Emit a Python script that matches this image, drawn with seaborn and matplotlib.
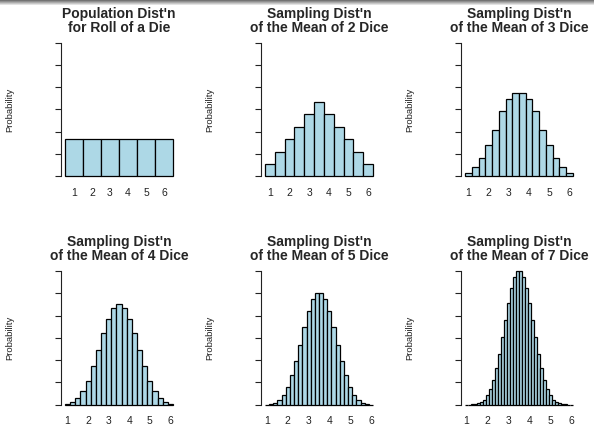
import numpy as np
import pandas as pd
import seaborn as sns
import matplotlib.pyplot as plt

# number of dice averaged in each panel
n_dice = [1, 2, 3, 4, 5, 7]

titles = [
    "Population Dist'n\nfor Roll of a Die",
    "Sampling Dist'n\nof the Mean of 2 Dice",
    "Sampling Dist'n\nof the Mean of 3 Dice",
    "Sampling Dist'n\nof the Mean of 4 Dice",
    "Sampling Dist'n\nof the Mean of 5 Dice",
    "Sampling Dist'n\nof the Mean of 7 Dice",
]

# number of ways to get each total (total = n .. 6n)
counts_1 = [1, 1, 1, 1, 1, 1]
counts_2 = [1, 2, 3, 4, 5, 6, 5, 4, 3, 2, 1]
counts_3 = [1, 3, 6, 10, 15, 21, 25, 27, 27, 25, 21, 15, 10, 6, 3, 1]
counts_4 = [1, 4, 10, 20, 35, 56, 80, 104, 125, 140, 146,
            140, 125, 104, 80, 56, 35, 20, 10, 4, 1]
counts_5 = [1, 5, 15, 35, 70, 126, 205, 305, 420, 540, 651, 735, 780,
            780, 735, 651, 540, 420, 305, 205, 126, 70, 35, 15, 5, 1]
counts_7 = [1, 7, 28, 84, 210, 462, 917, 1667, 2807, 4417, 6538, 9142,
            12117, 15267, 18327, 20993, 22967, 24017,
            24017, 22967, 20993, 18327, 15267, 12117, 9142, 6538,
            4417, 2807, 1667, 917, 462, 210, 84, 28, 7, 1]
all_counts = [counts_1, counts_2, counts_3, counts_4, counts_5, counts_7]

x_ticks = [1, 2, 3, 4, 5, 6]
y_ticks = [0, 0.1, 0.2, 0.3, 0.4, 0.5, 0.6]

sns.set_style("white")
plt.rcParams['font.family'] = ['Liberation Sans', 'DejaVu Sans']

W, H = 594, 425
fig = plt.figure(figsize=(W / 100, H / 100), dpi=100)

# grey shadow strip at the very top
strip = fig.add_axes([0, 1 - 6 / H, 1, 6 / H])
strip.imshow(np.linspace(0.45, 1.0, 6)[:, None], cmap='gray', vmin=0, vmax=1,
             aspect='auto')
strip.axis('off')

col_left = [60.7, 260.7, 460.7]
row_top = [37.3, 265.7]
pw, ph = 116.6, 144.3

for i, (n, counts, title) in enumerate(zip(n_dice, all_counts, titles)):
    r, c = divmod(i, 3)
    ax = fig.add_axes([col_left[c] / W, 1 - (row_top[r] + ph) / H, pw / W, ph / H])

    means = np.arange(n, 6 * n + 1) / n
    edges = [float(m - 0.5 / n) for m in means] + [float(means[-1] + 0.5 / n)]
    df = pd.DataFrame({'mean': means, 'ways': counts})
    sns.histplot(data=df, x='mean', weights='ways', bins=edges, stat='density',
                 color='#ADD8E6', edgecolor='black', linewidth=0.9, alpha=1,
                 ax=ax)

    lo, hi = edges[0], edges[-1]
    pad = 0.04 * (hi - lo)
    ax.set_xlim(lo - pad, hi + pad)
    ax.set_ylim(-0.024, 0.624)

    sns.despine(ax=ax, bottom=True)
    ax.spines['left'].set_bounds(0, 0.6)
    ax.spines['left'].set_linewidth(0.8)
    ax.spines['left'].set_color('#222222')

    ax.set_xticks(x_ticks)
    ax.set_xticklabels([str(t) for t in x_ticks], fontsize=7.5, color='#222222')
    ax.tick_params(axis='x', length=0, pad=4.5)
    ax.set_yticks(y_ticks)
    ax.set_yticklabels([])
    ax.tick_params(axis='y', left=True, length=4.3, width=0.8, color='#222222')

    ax.set_xlabel('')
    ax.set_ylabel('Probability', fontsize=6.8, color='#222222')
    ax.yaxis.set_label_coords(-0.40, 0.5)
    ax.set_title(title, fontsize=10, fontweight='bold', pad=4.0,
                 linespacing=1.0)

fig.savefig('out.png', dpi=100)
